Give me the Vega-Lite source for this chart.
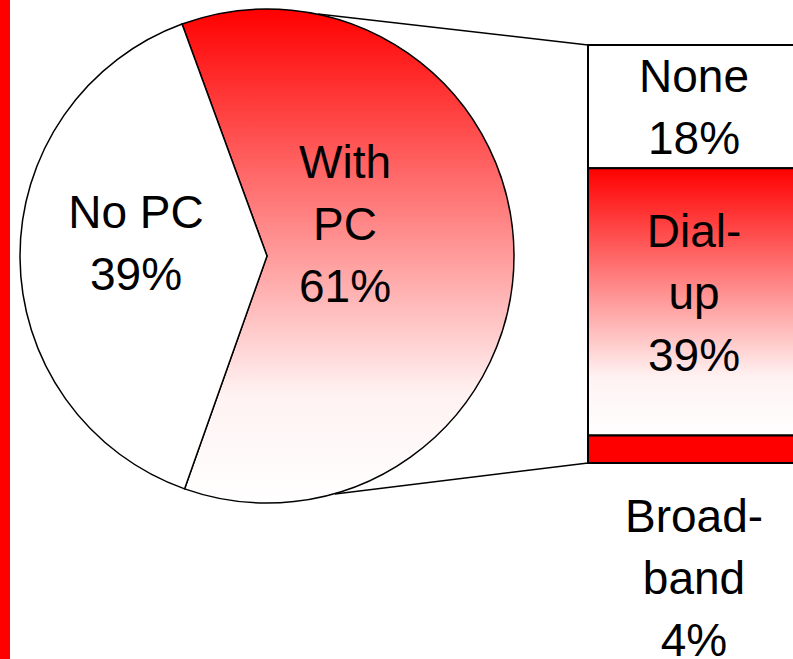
{
  "$schema": "https://vega.github.io/schema/vega-lite/v6.json",
  "width": 793,
  "height": 659,
  "autosize": "none",
  "padding": 0,
  "background": "#ffffff",
  "config": {"view": {"stroke": null}},
  "datasets": {
    "pc": [
      {"cat": "With PC", "value": 61, "order": 1, "label": "With\nPC\n61%"},
      {"cat": "No PC", "value": 39, "order": 2, "label": "No PC\n39%"}
    ],
    "net": [
      {"cat": "None", "value": 18, "order": 3, "label": "None\n18%"},
      {"cat": "Dial-up", "value": 39, "order": 2, "label": "Dial-\nup\n39%"},
      {"cat": "Broadband", "value": 4, "order": 1, "label": "Broad-\nband\n4%"}
    ]
  },
  "resolve": {"scale": {"x": "independent", "y": "independent"}},
  "layer": [
    {
      "data": {"values": [{}]},
      "mark": {"type": "rect", "fill": "#ff0000"},
      "encoding": {
        "x": {"datum": 0, "type": "quantitative", "scale": {"domain": [0, 793], "nice": false, "zero": false}, "axis": null},
        "x2": {"datum": 10},
        "y": {"datum": 0, "type": "quantitative", "scale": {"domain": [0, 659], "nice": false, "zero": false, "reverse": true}, "axis": null},
        "y2": {"datum": 659}
      }
    },
    {
      "data": {"name": "pc"},
      "encoding": {
        "x": {"datum": 267, "type": "quantitative", "scale": {"domain": [0, 793], "nice": false, "zero": false}, "axis": null},
        "y": {"datum": 256, "type": "quantitative", "scale": {"domain": [0, 659], "nice": false, "zero": false, "reverse": true}, "axis": null},
        "theta": {"field": "value", "type": "quantitative", "stack": "zero", "scale": {"domain": [0, 100], "range": [-0.351, 5.932]}},
        "order": {"field": "order", "type": "quantitative"},
        "detail": {"field": "cat", "type": "nominal"}
      },
      "layer": [
        {
          "mark": {"type": "arc", "radius": 247, "stroke": "#000000", "strokeWidth": 1.5},
          "encoding": {
            "fill": {
              "condition": {"test": "datum.cat === 'With PC'", "value": {"gradient": "linear", "x1": 0, "y1": 0, "x2": 0, "y2": 1, "stops": [{"offset": 0, "color": "#ff0000"}, {"offset": 0.78, "color": "#fff2f2"}, {"offset": 1, "color": "#ffffff"}]}},
              "value": "#ffffff"
            }
          }
        },
        {
          "mark": {"type": "text", "radius": 131, "dy": -42.5, "align": "center", "baseline": "middle", "font": "Liberation Sans", "fontSize": 46, "lineHeight": 62, "lineBreak": "\n", "color": "#000000"},
          "encoding": {"text": {"condition": {"test": "datum.cat === 'No PC'", "field": "label", "type": "nominal"}, "value": ""}}
        },
        {
          "mark": {"type": "text", "radius": 78, "dy": -92, "align": "center", "baseline": "middle", "font": "Liberation Sans", "fontSize": 46, "lineHeight": 62, "lineBreak": "\n", "color": "#000000"},
          "encoding": {"text": {"condition": {"test": "datum.cat === 'With PC'", "field": "label", "type": "nominal"}, "value": ""}}
        }
      ]
    },
    {
      "data": {"values": [{}]},
      "layer": [
        {
          "mark": {"type": "rule", "stroke": "#000000", "strokeWidth": 1.5},
          "encoding": {
            "x": {"datum": 318, "type": "quantitative", "scale": {"domain": [0, 793], "nice": false, "zero": false}, "axis": null},
            "x2": {"datum": 588},
            "y": {"datum": 14, "type": "quantitative", "scale": {"domain": [0, 659], "nice": false, "zero": false, "reverse": true}, "axis": null},
            "y2": {"datum": 45}
          }
        },
        {
          "mark": {"type": "rule", "stroke": "#000000", "strokeWidth": 1.5},
          "encoding": {
            "x": {"datum": 335, "type": "quantitative"},
            "x2": {"datum": 588},
            "y": {"datum": 494, "type": "quantitative"},
            "y2": {"datum": 463}
          }
        }
      ]
    },
    {
      "data": {"name": "net"},
      "layer": [
        {
          "transform": [{"stack": "value", "groupby": [], "sort": [{"field": "order", "order": "ascending"}], "as": ["v0", "v1"]}],
          "mark": {"type": "rect", "stroke": "#000000", "strokeWidth": 2},
          "encoding": {
            "x": {"datum": 588, "type": "quantitative", "scale": {"domain": [0, 793], "nice": false, "zero": false}, "axis": null},
            "x2": {"datum": 800},
            "y": {"field": "v0", "type": "quantitative", "scale": {"domain": [0, 61], "range": [463, 45], "nice": false, "zero": false}, "axis": null},
            "y2": {"field": "v1"},
            "fill": {
              "condition": [
                {"test": "datum.cat === 'Dial-up'", "value": {"gradient": "linear", "x1": 0, "y1": 0, "x2": 0, "y2": 1, "stops": [{"offset": 0, "color": "#ff0000"}, {"offset": 0.78, "color": "#fff2f2"}, {"offset": 1, "color": "#ffffff"}]}},
                {"test": "datum.cat === 'Broadband'", "value": "#ff0000"}
              ],
              "value": "#ffffff"
            }
          }
        },
        {
          "mark": {"type": "text", "dy": -29, "align": "center", "baseline": "middle", "font": "Liberation Sans", "fontSize": 46, "lineHeight": 62, "lineBreak": "\n", "color": "#000000"},
          "encoding": {
            "x": {"datum": 694, "type": "quantitative"},
            "y": {"field": "value", "type": "quantitative", "stack": "zero", "bandPosition": 0.5},
            "detail": {"field": "cat", "type": "nominal"},
            "order": {"field": "order", "type": "quantitative"},
            "text": {"condition": {"test": "datum.cat === 'None'", "field": "label", "type": "nominal"}, "value": ""}
          }
        },
        {
          "mark": {"type": "text", "dy": -69, "align": "center", "baseline": "middle", "font": "Liberation Sans", "fontSize": 46, "lineHeight": 62, "lineBreak": "\n", "color": "#000000"},
          "encoding": {
            "x": {"datum": 694, "type": "quantitative"},
            "y": {"field": "value", "type": "quantitative", "stack": "zero", "bandPosition": 0.5},
            "detail": {"field": "cat", "type": "nominal"},
            "order": {"field": "order", "type": "quantitative"},
            "text": {"condition": {"test": "datum.cat === 'Dial-up'", "field": "label", "type": "nominal"}, "value": ""}
          }
        },
        {
          "mark": {"type": "text", "dy": 55, "align": "center", "baseline": "middle", "font": "Liberation Sans", "fontSize": 46, "lineHeight": 62, "lineBreak": "\n", "color": "#000000"},
          "encoding": {
            "x": {"datum": 694, "type": "quantitative"},
            "y": {"field": "value", "type": "quantitative", "stack": "zero", "bandPosition": 0},
            "detail": {"field": "cat", "type": "nominal"},
            "order": {"field": "order", "type": "quantitative"},
            "text": {"condition": {"test": "datum.cat === 'Broadband'", "field": "label", "type": "nominal"}, "value": ""}
          }
        }
      ]
    }
  ]
}
